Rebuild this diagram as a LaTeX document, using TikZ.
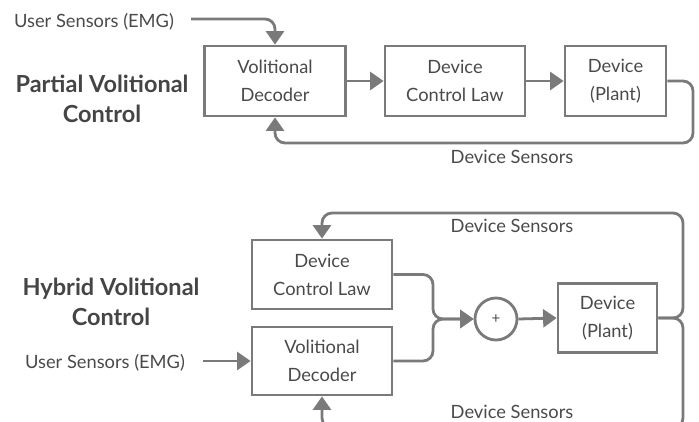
\documentclass[tikz,border=0pt]{standalone}
\usepackage{fontspec}
\setmainfont{Lato}
\usetikzlibrary{arrows.meta}
\definecolor{linegray}{HTML}{7A7A7A}
\definecolor{textgray}{HTML}{4A4A4A}
\definecolor{titlegray}{HTML}{454545}
\tikzset{
  blockbox/.style={draw=linegray, line width=2.8pt, fill=white, inner sep=0pt,
    align=center, text=textgray, font=\fontsize{18.3}{28}\selectfont},
  wire/.style={draw=linegray, line width=2.8pt, rounded corners=10pt},
  arr/.style={wire, -{Triangle[length=13.5pt,width=18pt]}},
  lbl/.style={text=textgray, font=\fontsize{18.3}{22}\selectfont, inner sep=0pt},
  title/.style={text=titlegray, font=\bfseries\fontsize{23.5}{30}\selectfont, align=center, inner sep=0pt},
}
\begin{document}
\begin{tikzpicture}[x=1pt,y=-1pt]
\useasboundingbox (0,0) rectangle (699,421);
\clip (0,0) rectangle (699,421);

% ---- Partial volitional control ----
\node[title] (t1) at (102,99) {Partial Volitional\\Control};
\node[lbl] (u1) at (94,22) {User Sensors (EMG)};
\node[blockbox, minimum width=141pt, minimum height=70pt] (vd1) at (275,81) {Volitional\\Decoder};
\node[blockbox, minimum width=140pt, minimum height=70pt] (dcl1) at (455,81) {Device\\Control Law};
\node[blockbox, minimum width=101pt, minimum height=70pt] (pl1) at (615.5,81) {Device\\(Plant)};
\coordinate (s1) at (191,19);
\node[lbl] (ds1) at (512,157) {Device Sensors};

\draw[arr] (s1) -- (vd1.north |- s1) -- (vd1.north);
\draw[arr] (vd1.east) -- (dcl1.west);
\draw[arr] (dcl1.east) -- (pl1.west);
\draw[arr] (pl1.east) -- (693,81) -- (693,143) -- (vd1.south |- 0,143) -- (vd1.south);

% ---- Hybrid volitional control ----
\node[title] (t2) at (111,302) {Hybrid Volitional\\Control};
\node[blockbox, minimum width=140pt, minimum height=69pt] (dcl2) at (322,274.5) {Device\\Control Law};
\node[blockbox, minimum width=140pt, minimum height=68pt] (vd2) at (322,361) {Volitional\\Decoder};
\node[draw=linegray, line width=2.8pt, circle, minimum size=42pt, inner sep=0pt,
      text=textgray, font=\fontsize{15}{15}\selectfont] (sum) at (496,319) {+};
\node[blockbox, minimum width=99pt, minimum height=69pt] (pl2) at (607.5,318) {Device\\(Plant)};
\node[lbl] (u2) at (105,363) {User Sensors (EMG)};
\coordinate (s2) at (203,361);
\node[lbl] (ds2) at (512,226) {Device Sensors};
\node[lbl] (ds3) at (512,412) {Device Sensors};

\draw[arr] (s2) -- (vd2.west);
\draw[arr] (dcl2.east) -- (433,274.5) -- (433,319) -- (sum.west);
\draw[arr] (vd2.east) -- (433,361) -- (433,319) -- (sum.west);
\draw[arr] (sum.east) -- (pl2.west);
\draw[arr] (pl2.east) -- (683,318) -- (683,213) -- (dcl2.north |- 0,213) -- (dcl2.north);
\draw[arr] (pl2.east) -- (683,318) -- (683,428) -- (vd2.south |- 0,428) -- (vd2.south);
\end{tikzpicture}
\end{document}
